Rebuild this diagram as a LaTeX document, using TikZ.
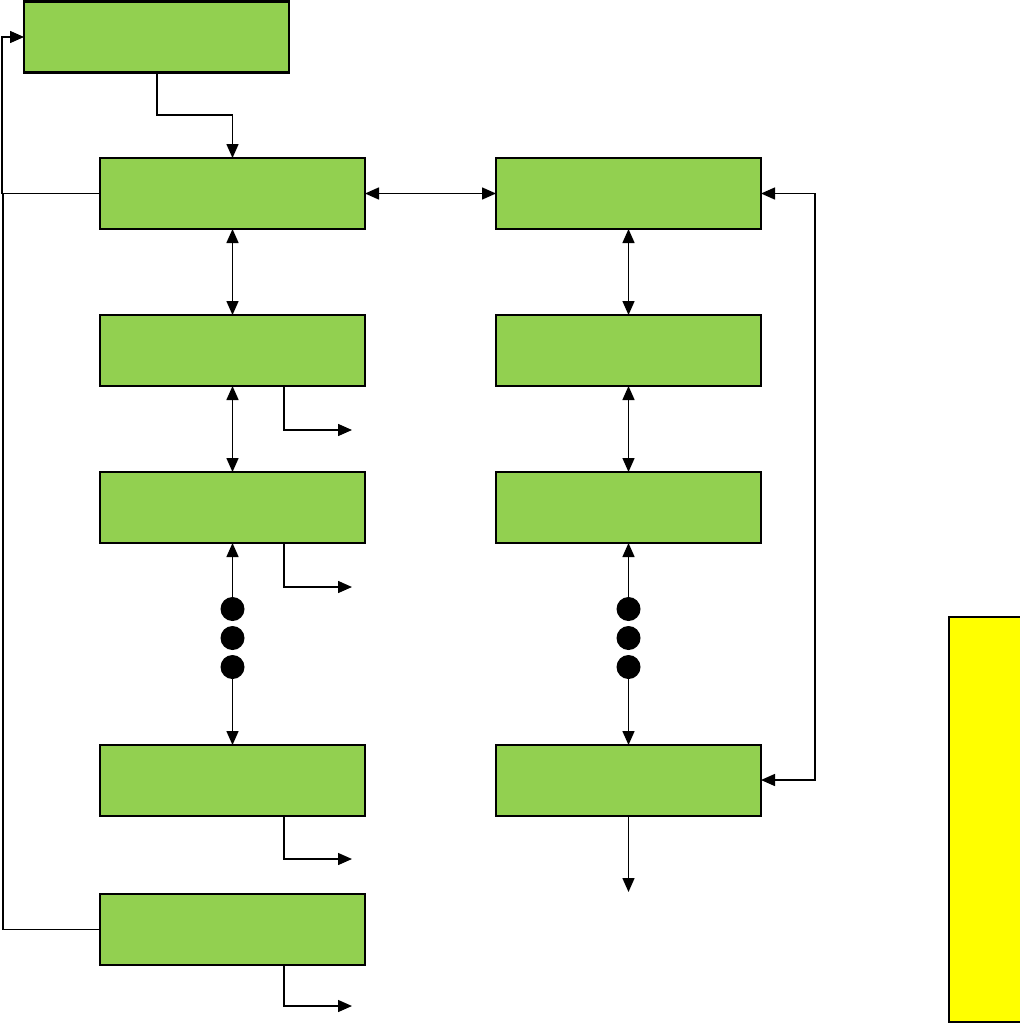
\documentclass[tikz,border=0pt]{standalone}
\usetikzlibrary{arrows.meta}
\definecolor{boxgreen}{HTML}{92D050}
\definecolor{boxyellow}{RGB}{255,255,0}
\begin{document}
\begin{tikzpicture}[x=0.75pt,y=-0.75pt,
  gbox/.style={draw=black,line width=1.8pt,fill=boxgreen,minimum width=198.75pt,minimum height=53.25pt,inner sep=0pt,outer sep=0pt},
  dotnode/.style={circle,fill=black,minimum size=18pt,inner sep=0pt,outer sep=0pt},
  conn/.style={line width=1.1pt,-{Triangle[length=10.5pt,width=9pt]}},
  dconn/.style={line width=1.1pt,{Triangle[length=10.5pt,width=9pt]}-{Triangle[length=10.5pt,width=9pt]}},
  plain/.style={line width=1.1pt}]
\useasboundingbox (0,0) rectangle (1020,1024);
% boxes
\node[gbox] (T)  at (156.5,37) {};
\node[gbox] (L1) at (232.5,193.5) {};
\node[gbox] (L2) at (232.5,350.5) {};
\node[gbox] (L3) at (232.5,507.5) {};
\node[gbox] (L4) at (232.5,780.5) {};
\node[gbox] (L5) at (232.5,929.5) {};
\node[gbox] (R1) at (628.5,193.5) {};
\node[gbox] (R2) at (628.5,350.5) {};
\node[gbox] (R3) at (628.5,507.5) {};
\node[gbox] (R4) at (628.5,780.5) {};
\node[draw=black,line width=1.3pt,fill=boxyellow,minimum width=55pt,minimum height=303.75pt,inner sep=0pt,outer sep=0pt] (Y) at (985.5,819.5) {};
% dots
\node[dotnode] (ld1) at (232.5,609) {};
\node[dotnode] (ld2) at (232.5,638) {};
\node[dotnode] (ld3) at (232.5,667) {};
\node[dotnode] (rd1) at (628.5,609) {};
\node[dotnode] (rd2) at (628.5,638) {};
\node[dotnode] (rd3) at (628.5,667) {};
% coordinates
\coordinate (tk) at (157,115);
\coordinate (lx) at (2,37);
\coordinate (lx2) at (3,193.5);
\coordinate (rx) at (815,193.5);
\coordinate (rx2) at (815,780);
\coordinate (o2) at (284,430);
\coordinate (e2) at (352,430);
\coordinate (o3) at (284,587);
\coordinate (e3) at (352,587);
\coordinate (o4) at (284,859);
\coordinate (e4) at (352,859);
\coordinate (o5) at (284,1006);
\coordinate (e5) at (352,1006);
\coordinate (rout) at (628.5,892);
% connectors
\draw[conn] (T.south -| tk) -- (tk) -| (L1.north);
\draw[conn] (L1.west) -| (lx) -- (T.west |- lx);
\draw[plain] (L5.west) -| (lx2) -- (L1.west);
\draw[dconn] (L1.east) -- (R1.west);
\draw[dconn] (R1.east) -- (rx) -- (rx2) -- (R4.east |- rx2);
\draw[dconn] (L1.south) -- (L2.north);
\draw[dconn] (L2.south) -- (L3.north);
\draw[conn] (ld1.north) -- (L3.south);
\draw[conn] (ld3.south) -- (L4.north);
\draw[dconn] (R1.south) -- (R2.north);
\draw[dconn] (R2.south) -- (R3.north);
\draw[conn] (rd1.north) -- (R3.south);
\draw[conn] (rd3.south) -- (R4.north);
\draw[conn] (L2.south -| o2) -- (o2) -- (e2);
\draw[conn] (L3.south -| o3) -- (o3) -- (e3);
\draw[conn] (L4.south -| o4) -- (o4) -- (e4);
\draw[conn] (L5.south -| o5) -- (o5) -- (e5);
\draw[conn] (R4.south) -- (rout);
\end{tikzpicture}
\end{document}
